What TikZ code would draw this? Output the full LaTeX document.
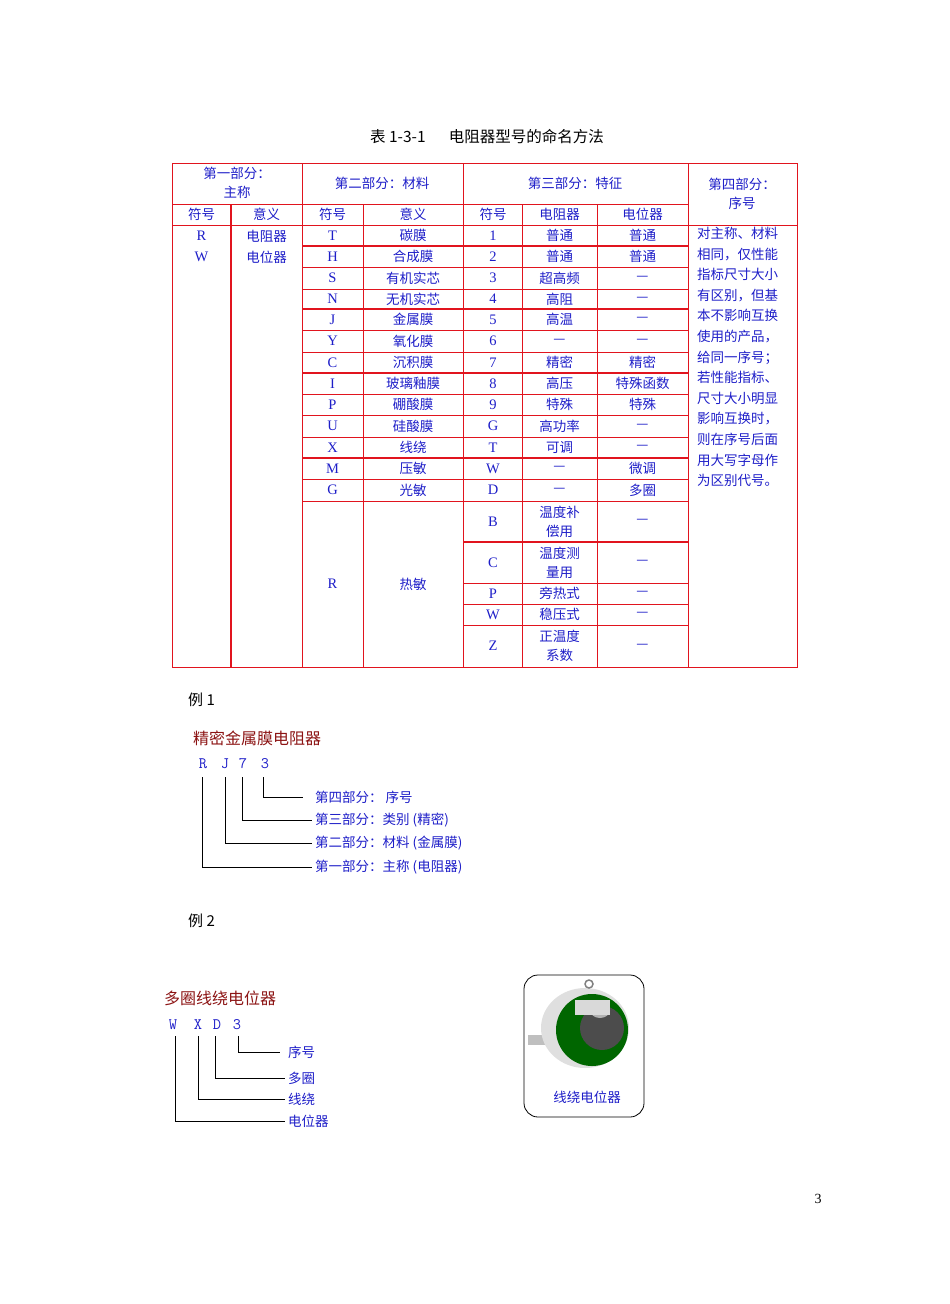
\documentclass[tikz,border=0pt]{standalone}
\usepackage{fontspec}
\setmainfont{Liberation Serif}
\newfontfamily\cjk{Noto Sans CJK SC}
\definecolor{tred}{RGB}{225,20,30}
\definecolor{tblue}{RGB}{30,30,200}
\definecolor{dred}{RGB}{140,20,20}
\begin{document}
\begin{tikzpicture}[x=1pt,y=-1pt,
  grid/.style={draw=tred,line width=0.8pt},
  thick grid/.style={draw=tred,line width=1.6pt},
  cell/.style={text=tblue,font=\cjk\fontsize{13.5}{19}\selectfont,inner sep=0pt,align=center},
  sym/.style={cell,font=\rmfamily\fontsize{14.5}{14.5}\selectfont},
  lab/.style={text=tblue,font=\cjk\fontsize{13.5}{14}\selectfont,inner sep=0pt,anchor=west},
  code/.style={text=tblue,font=\ttfamily\fontsize{16}{16}\selectfont,inner sep=0pt},
  ttl/.style={text=dred,font=\cjk\fontsize{16}{17}\selectfont,inner sep=0pt,anchor=west},
  lead/.style={draw=black,line width=0.8pt}]
\useasboundingbox (0,0) rectangle (950,1304);
\node[font=\cjk\fontsize{15.5}{16}\selectfont,inner sep=0pt] (cap) at (487,137) {表 1-3-1\hspace{1.5em}电阻器型号的命名方法};
% frame
\draw[grid] (172,163) rectangle (797,667);
\foreach \x in {302,463,688} \draw[grid] (\x,163) -- (\x,667);
\foreach \x in {363,522,597} \draw[grid] (\x,204) -- (\x,667);
\draw[grid,line width=1.4pt] (231,204) -- (231,667);
\draw[grid] (172,204) -- (688,204);
\draw[grid] (172,225) -- (797,225);
\foreach \y in {246,267,289,309,330,352,373,394,415,437,458,479,501} \draw[grid] (302,\y) -- (688,\y);
\foreach \y in {246,309,373,458} \draw[thick grid] (302,\y) -- (688,\y);
\foreach \y in {583,604,625} \draw[grid] (463,\y) -- (688,\y);
\draw[thick grid] (463,542) -- (688,542);
% headers
\node[cell] (h1) at (237,183) {第一部分：\\主称};
\node[cell] (h2) at (382,183) {第二部分：材料};
\node[cell] (h3) at (575,183) {第三部分：特征};
\node[cell] (h4) at (742,194) {第四部分：\\序号};
\foreach \x/\t [count=\i] in {201.5/符号,266.5/意义,332.5/符号,413/意义,493/符号,559.5/电阻器,642.5/电位器}
  \node[cell] (sh\i) at (\x,214.5) {\t};
\node[sym] (r1) at (201.5,236) {R};
\node[sym] (r2) at (201.5,257) {W};
\node[cell] (m1) at (266.5,236) {电阻器};
\node[cell] (m2) at (266.5,257) {电位器};
\foreach \y/\a/\b/\c/\d/\e [count=\i] in {
 235.5/T/碳膜/1/普通/普通, 256.5/H/合成膜/2/普通/普通, 278/S/有机实芯/3/超高频/—,
 299/N/无机实芯/4/高阻/—, 319.5/J/金属膜/5/高温/—, 341/Y/氧化膜/6/—/—,
 362.5/C/沉积膜/7/精密/精密, 383.5/I/玻璃釉膜/8/高压/特殊函数, 404.5/P/硼酸膜/9/特殊/特殊,
 426/U/硅酸膜/G/高功率/—, 447.5/X/线绕/T/可调/—, 468.5/M/压敏/W/—/微调, 490/G/光敏/D/—/多圈}{
  \node[sym] (a\i) at (332.5,\y) {\a};
  \node[cell] (b\i) at (413,\y) {\b};
  \node[sym] (c\i) at (493,\y) {\c};
  \node[cell] (d\i) at (559.5,\y) {\d};
  \node[cell] (e\i) at (642.5,\y) {\e};
}
\node[sym] (ra) at (332.5,584) {R};
\node[cell] (rb) at (413,584) {热敏};
\foreach \y/\c/\d [count=\i] in {521.5/B/{温度补\\偿用}, 562.5/C/{温度测\\量用}, 593.5/P/旁热式, 614.5/W/稳压式, 646/Z/{正温度\\系数}}{
  \node[sym] (tc\i) at (493,\y) {\c};
  \node[cell] (td\i) at (559.5,\y) {\d};
  \node[cell] (te\i) at (642.5,\y) {—};
}
\node[cell,anchor=north west,align=left,font=\cjk\fontsize{13.5}{20.6}\selectfont] (desc) at (697,227)
 {对主称、材料\\相同，仅性能\\指标尺寸大小\\有区别，但基\\本不影响互换\\使用的产品，\\给同一序号；\\若性能指标、\\尺寸大小明显\\影响互换时，\\则在序号后面\\用大写字母作\\为区别代号。};
% example 1
\node[font=\cjk\fontsize{15}{15}\selectfont,inner sep=0pt,anchor=west] (ex1) at (188,700) {例 1};
\node[ttl] (t1) at (193,738) {精密金属膜电阻器};
\node[code] (cR) at (203,764) {R};
\node[code] (cJ) at (225,764) {J};
\node[code] (c7) at (243,764) {7};
\node[code] (c3) at (265,764) {3};
\node[lab] (l4) at (315,797) {第四部分： 序号};
\node[lab] (l3) at (315,820) {第三部分：类别 (精密)};
\node[lab] (l2) at (315,843) {第二部分：材料 (金属膜)};
\node[lab] (l1) at (315,867) {第一部分：主称 (电阻器)};
\draw[lead] (263,777) |- ([xshift=-12pt]l4.west);
\draw[lead] (242,777) |- ([xshift=-3pt]l3.west);
\draw[lead] (225,777) |- ([xshift=-3pt]l2.west);
\draw[lead] (202,777) |- ([xshift=-3pt]l1.west);
% example 2
\node[font=\cjk\fontsize{15}{15}\selectfont,inner sep=0pt,anchor=west] (ex2) at (188,921) {例 2};
\node[ttl] (t2) at (164,998) {多圈线绕电位器};
\node[code] (wW) at (173,1025) {W};
\node[code] (wX) at (198,1025) {X};
\node[code] (wD) at (217,1025) {D};
\node[code] (w3) at (237,1025) {3};
\node[lab] (k4) at (288,1052) {序号};
\node[lab] (k3) at (288,1078) {多圈};
\node[lab] (k2) at (288,1099) {线绕};
\node[lab] (k1) at (288,1121) {电位器};
\draw[lead,line width=0.6pt] (238,1036) |- ([xshift=-8pt]k4.west);
\draw[lead,line width=0.6pt] (215,1036) |- ([xshift=-3pt]k3.west);
\draw[lead,line width=0.6pt] (198,1036) |- ([xshift=-3pt]k2.west);
\draw[lead,line width=0.6pt] (175,1036) |- ([xshift=-3pt]k1.west);
% photo
\draw[line width=0.8pt,rounded corners=14pt] (524,975) rectangle (644,1117);
\fill[gray!50] (528,1035) rectangle (545,1045);
\fill[gray!25] (585,1028) ellipse (44 and 40);
\fill[green!40!black] (592,1030) ellipse (36 and 36);
\fill[black!70] (602,1028) ellipse (22 and 22);
\fill[gray!60] (600,1010) ellipse (10 and 8);
\fill[gray!30] (575,1000) rectangle (610,1015);
\draw[gray,line width=1.5pt] (589,984) circle (4);
\node[cell] (pl) at (587,1097) {线绕电位器};
\node[font=\fontsize{14}{14}\selectfont,inner sep=0pt] (pg) at (818,1199) {3};
\end{tikzpicture}
\end{document}
